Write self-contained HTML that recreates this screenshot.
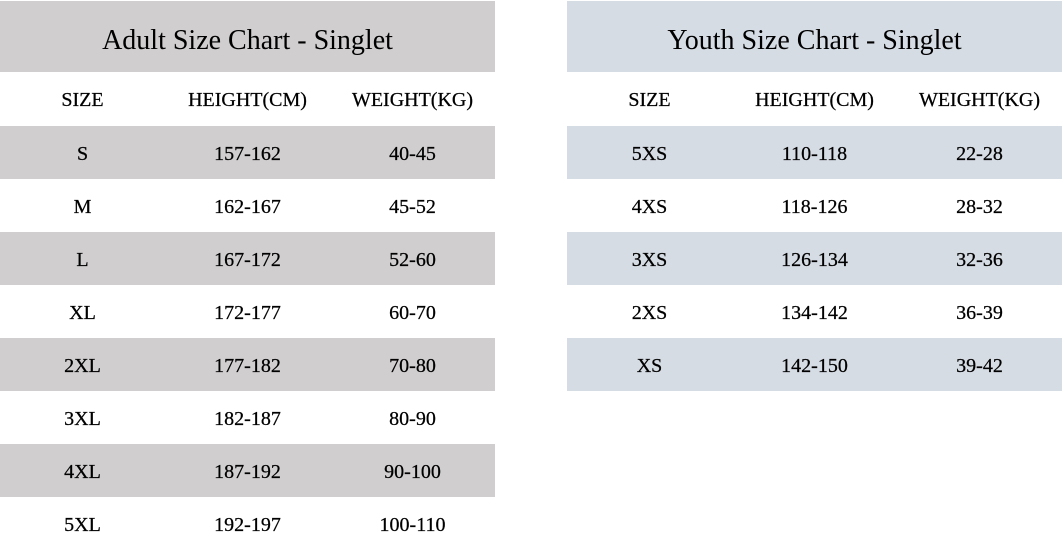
<!DOCTYPE html><html><head><style>
body{margin:0;width:1064px;height:550px;background:#fff;font-family:"Liberation Serif",serif;color:#000;position:relative;overflow:hidden}
.t{position:absolute;top:1px;width:495px}
.h{height:71px;line-height:79px;text-align:center;font-size:28px}
.r{display:flex;height:53px;align-items:center;font-size:20px;padding-top:3px;box-sizing:border-box;-webkit-text-stroke:0.25px #000}
.r div{width:165px;text-align:center}
.hd{height:54px}
</style></head><body>
<div class="t" style="left:0">
<div class="h" style="background:#d0cece">Adult Size Chart - Singlet</div>
<div class="r hd"><div>SIZE</div><div>HEIGHT(CM)</div><div>WEIGHT(KG)</div></div>
<div class="r" style="background:#d0cece"><div>S</div><div>157-162</div><div>40-45</div></div>
<div class="r"><div>M</div><div>162-167</div><div>45-52</div></div>
<div class="r" style="background:#d0cece"><div>L</div><div>167-172</div><div>52-60</div></div>
<div class="r"><div>XL</div><div>172-177</div><div>60-70</div></div>
<div class="r" style="background:#d0cece"><div>2XL</div><div>177-182</div><div>70-80</div></div>
<div class="r"><div>3XL</div><div>182-187</div><div>80-90</div></div>
<div class="r" style="background:#d0cece"><div>4XL</div><div>187-192</div><div>90-100</div></div>
<div class="r"><div>5XL</div><div>192-197</div><div>100-110</div></div>
</div>
<div class="t" style="left:567px">
<div class="h" style="background:#d6dce4">Youth Size Chart - Singlet</div>
<div class="r hd"><div>SIZE</div><div>HEIGHT(CM)</div><div>WEIGHT(KG)</div></div>
<div class="r" style="background:#d6dce4"><div>5XS</div><div>110-118</div><div>22-28</div></div>
<div class="r"><div>4XS</div><div>118-126</div><div>28-32</div></div>
<div class="r" style="background:#d6dce4"><div>3XS</div><div>126-134</div><div>32-36</div></div>
<div class="r"><div>2XS</div><div>134-142</div><div>36-39</div></div>
<div class="r" style="background:#d6dce4"><div>XS</div><div>142-150</div><div>39-42</div></div>
</div>
</body></html>
